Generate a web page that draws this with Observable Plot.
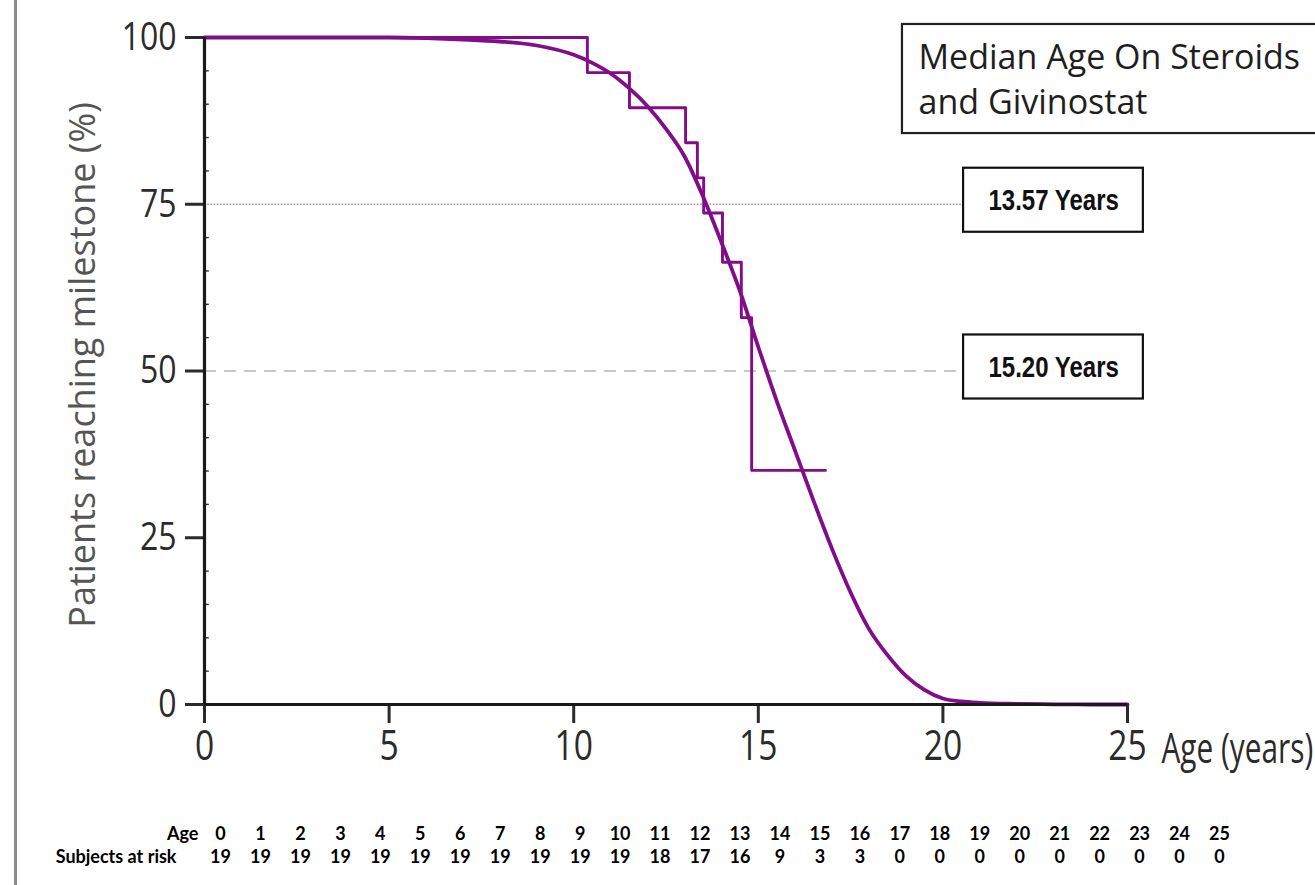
<!DOCTYPE html>
<html>
<head>
<meta charset="utf-8">
<script src="https://cdn.jsdelivr.net/npm/d3@7"></script>
<script src="https://cdn.jsdelivr.net/npm/@observablehq/plot@0.6"></script>
<style>
  html, body { margin: 0; padding: 0; background: #fff; overflow: hidden; width: 1315px; height: 885px; }
  #wrap { position: relative; width: 1315px; height: 885px; }
  #wrap svg { display: block; }
  #border { position: absolute; left: 14px; top: 0; width: 3px; height: 885px; background: #8c8c8c; }
</style>
</head>
<body>
<div id="wrap"></div>
<script>
// ---------- data ----------
const ages = [0,1,2,3,4,5,6,7,8,9,10,11,12,13,14,15,16,17,18,19,20,21,22,23,24,25];
const atRisk = [19,19,19,19,19,19,19,19,19,19,19,18,17,16,9,3,3,0,0,0,0,0,0,0,0,0];

// fitted (smooth) curve
const fitAge = [0,1,2,3,4,5,6,7,8,9,10,10.5,11,11.5,12,12.5,13,13.5,14,14.5,15,15.5,16,16.5,17,17.5,18,18.5,19,19.5,20,20.5,21,22,23,24,25];
const fitPct = [100,100,100,100,100,100,99.9,99.7,99.4,98.8,97.4,96.2,94.6,92.4,89.7,86.3,82.2,76.2,69.3,62,53.6,45.5,38,30.5,23.3,16.8,11.3,7.4,4.3,2.2,0.9,0.45,0.25,0.1,0.03,0,0];

// Kaplan-Meier step curve
const kmAge = [0,10.37,11.51,13.03,13.35,13.52,14.03,14.54,14.82,16.82];
const kmPct = [100,94.74,89.47,84.21,78.95,73.68,66.3,58.0,35.1,35.1];

// median / quartile annotations
const medianLabels = ["13.57 Years","15.20 Years"];
const medianPct = [75,50];

const xTicks = [0,5,10,15,20,25];
const yTicks = [0,25,50,75,100];
const yMinor = [5,10,15,20,30,35,40,45,55,60,65,70,80,85,90,95];

const yLabel = "Patients reaching milestone (%)";
const xLabel = "Age (years)";
const legendTitle = "Median Age On Steroids\nand Givinostat";
const rowLabels = ["Age","Subjects at risk"];

// ---------- build ----------
const PURPLE = "#820c89";
const HUMAN = "'Open Sans', 'Noto Sans', sans-serif";
const ARIAL = "'Liberation Sans', Arial, sans-serif";

const fit = fitAge.map((a,i)=>({age:a, pct:fitPct[i]}));
const km = kmAge.map((a,i)=>({age:a, pct:kmPct[i]}));
const medians = medianLabels.map((l,i)=>({label:l, pct:medianPct[i]}));

// annotation layout (data units)
const BOX_X1 = 20.56, BOX_X2 = 25.43, BOX_XC = 23.0, BOX_HALF = 4.8, BOX_SHIFT = 0.6;

const main = Plot.plot({
  width: 1315, height: 800,
  marginLeft: 204, marginRight: 188, marginTop: 37, marginBottom: 96,
  style: {fontFamily: HUMAN, background: "white", color: "#2b2b2b"},
  x: {domain: [0,25], axis: null},
  y: {domain: [0,100], axis: null},
  marks: [
    Plot.ruleY([75], {x1: 0, x2: BOX_X1, stroke: "#9a9a9a", strokeWidth: 1.3, strokeDasharray: "1.6,1.6"}),
    Plot.ruleY([50], {x1: 0, x2: BOX_X1, stroke: "#c8c8c8", strokeWidth: 2.2, strokeDasharray: "12,8"}),
    Plot.ruleY(yMinor, {x1: 0, x2: 0.13, stroke: "#333", strokeWidth: 1.4}),
    Plot.line(fit, {x: "age", y: "pct", stroke: PURPLE, strokeWidth: 3.8, curve: "monotone-x"}),
    Plot.line(km, {x: "age", y: "pct", stroke: PURPLE, strokeWidth: 2.9, curve: "step-after"}),
    Plot.axisY(yTicks, {anchor: "left", tickSize: 19, tickPadding: 9, fontSize: 39, label: null, strokeWidth: 3}),
    Plot.axisX(xTicks, {anchor: "bottom", tickSize: 19, tickPadding: 7, fontSize: 42, label: null, strokeWidth: 3}),
    Plot.ruleX([0], {y1: 0, y2: 100, stroke: "#1a1a1a", strokeWidth: 3.2}),
    Plot.ruleY([0], {x1: 0, x2: 25, stroke: "#1a1a1a", strokeWidth: 3.2}),
    // median boxes
    Plot.rect(medians, {x1: BOX_X1, x2: BOX_X2, y1: d => d.pct + BOX_SHIFT - BOX_HALF, y2: d => d.pct + BOX_SHIFT + BOX_HALF, fill: "white", stroke: "#111", strokeWidth: 2.2}),
    Plot.text(medians, {x: BOX_XC, y: d => d.pct + BOX_SHIFT, text: "label", fontSize: 30, fontWeight: "bold", fontFamily: ARIAL, fill: "#111"}),
    // legend title box
    Plot.rect([legendTitle], {x1: 18.905, x2: 31, y1: 85.6, y2: 101.95, fill: "white", stroke: "#222", strokeWidth: 2.2}),
    Plot.text([legendTitle], {x: 19.34, y: 100.0, text: d => d, textAnchor: "start", lineAnchor: "top", lineHeight: 1.32, fontSize: 34, fill: "#1e1e1e"}),
    // axis titles
    Plot.text([xLabel], {x: 25, y: 0, text: d => d, dx: 34, dy: 45, textAnchor: "start", fontSize: 42, fill: "#2b2b2b"}),
    Plot.text([yLabel], {frameAnchor: "left", text: d => d, rotate: -90, textAnchor: "middle", dx: -121, dy: -6, fontSize: 36, fill: "#555"})
  ]
});

// condense texts horizontally around their anchor point
function condenseEl(el, s) {
  const xv = parseFloat(el.getAttribute("x"));
  const x = isFinite(xv) ? xv : 0;
  const t = el.getAttribute("transform") || "";
  el.setAttribute("transform", `${t} translate(${x},0) scale(${s},1) translate(${-x},0)`);
}
main.querySelectorAll('g[aria-label="y-axis tick label"] text').forEach(el => condenseEl(el, 0.82));
main.querySelectorAll('g[aria-label="x-axis tick label"] text').forEach(el => condenseEl(el, 0.8));
main.querySelectorAll("text").forEach(el => {
  const c = el.textContent;
  if (medianLabels.includes(c)) condenseEl(el, 0.8);
  else if (c === xLabel) condenseEl(el, 0.71);
});

const table = Plot.plot({
  width: 1315, height: 85,
  marginLeft: 220, marginRight: 96, marginTop: 34, marginBottom: 28,
  style: {fontFamily: "Lato, 'Open Sans', sans-serif", background: "transparent", color: "#000"},
  x: {domain: [0,25], axis: null},
  y: {type: "point", domain: rowLabels, padding: 0, axis: null},
  marks: [
    Plot.text(ages, {x: d => d, y: () => rowLabels[0], text: d => String(d), fontSize: 18, fontWeight: "bold", fill: "#000"}),
    Plot.text(ages, {x: d => d, y: () => rowLabels[1], text: (d, i) => String(atRisk[i]), fontSize: 18, fontWeight: "bold", fill: "#000"}),
    Plot.text([rowLabels[0]], {x: 0, y: d => d, text: d => d, dx: -22, textAnchor: "end", fontSize: 18, fontWeight: "bold", fill: "#000"}),
    Plot.text([rowLabels[1]], {x: 0, y: d => d, text: d => d, dx: -44, textAnchor: "end", fontSize: 18, fontWeight: "bold", fill: "#000"})
  ]
});

const wrap = document.getElementById("wrap");
wrap.appendChild(main);
wrap.appendChild(table);
const border = document.createElement("div");
border.id = "border";
wrap.appendChild(border);
</script>
</body>
</html>
